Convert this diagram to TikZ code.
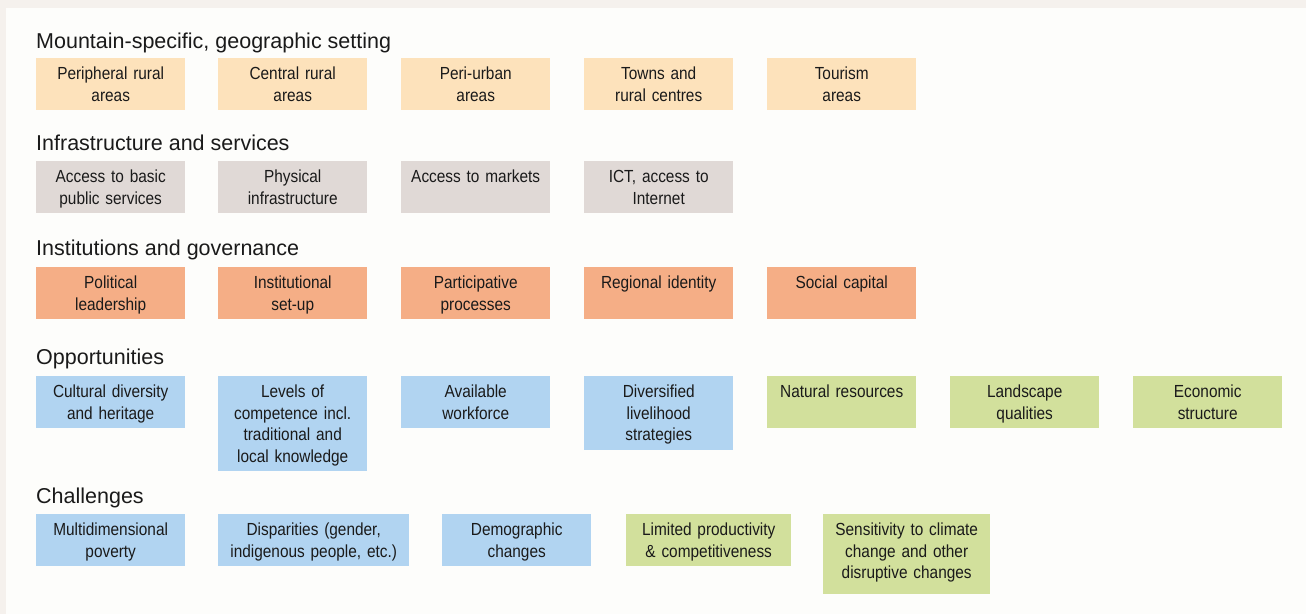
\documentclass[tikz,border=0pt]{standalone}
\usepackage{fontspec}
\setmainfont{Liberation Sans}
\newfontfamily\cellfont[FakeStretch=0.88]{Liberation Sans}

\definecolor{framebg}{HTML}{F5F1ED}
\definecolor{panelbg}{HTML}{FDFDFB}
\definecolor{geofill}{HTML}{FDE2BB}
\definecolor{infrafill}{HTML}{E0D9D6}
\definecolor{govfill}{HTML}{F5AE86}
\definecolor{socfill}{HTML}{B1D4F1}
\definecolor{envfill}{HTML}{D2E09C}
\definecolor{ink}{HTML}{1A1A1A}

\tikzset{
 heading/.style={anchor=base west, inner sep=0pt, text=ink,
   font=\fontsize{21.5}{25}\selectfont},
 cell/.style={anchor=north west, inner xsep=0pt, inner ysep=0pt,
   text width=149pt, align=center, text=ink,
   font=\cellfont\fontsize{17.5}{21.5}\selectfont,
   execute at begin node={\rule{0pt}{21.5pt}},
   execute at end node={\rule[-9pt]{0pt}{9pt}}},
 geo/.style={cell, fill=geofill},
 infra/.style={cell, fill=infrafill},
 gov/.style={cell, fill=govfill},
 soc/.style={cell, fill=socfill},
 env/.style={cell, fill=envfill}
}

\begin{document}
\begin{tikzpicture}[x=1pt,y=-1pt]
 \fill [framebg] (0,0) rectangle (1306,614);
 \fill [panelbg] (6,8) rectangle (1306,614);
 \useasboundingbox (0,0) rectangle (1306,614);

 % geographic setting
 \node [heading] (setting) at (36,48) {Mountain-specific, geographic setting};
 \node [geo] (peripheral) at (36,58)  {Peripheral rural\\areas};
 \node [geo] (central)    at (218,58) {Central rural\\areas};
 \node [geo] (periurban)  at (401,58) {Peri-urban\\areas};
 \node [geo] (towns)      at (584,58) {Towns and\\rural centres};
 \node [geo] (tourism)    at (767,58) {Tourism\\areas};

 % infrastructure
 \node [heading] (infra) at (36,150) {Infrastructure and services};
 \node [infra] (basic)    at (36,161)  {Access to basic\\public services};
 \node [infra] (physical) at (218,161) {Physical\\infrastructure};
 \node [infra] (markets)  at (401,161) {Access to markets\\~};
 \node [infra] (ict)      at (584,161) {ICT, access to\\Internet};

 % institutions
 \node [heading] (govern) at (36,255) {Institutions and governance};
 \node [gov] (political)     at (36,267)  {Political\\leadership};
 \node [gov] (institutional) at (218,267) {Institutional\\set-up};
 \node [gov] (participative) at (401,267) {Participative\\processes};
 \node [gov] (regional)      at (584,267) {Regional identity\\~};
 \node [gov] (social)        at (767,267) {Social capital\\~};

 % opportunities
 \node [heading] (opport) at (36,364) {Opportunities};
 \node [soc] (cultural)   at (36,376)  {Cultural diversity\\and heritage};
 \node [soc] (competence) at (218,376) {Levels of\\competence incl.\\traditional and\\local knowledge};
 \node [soc] (workforce)  at (401,376) {Available\\workforce};
 \node [soc] (livelihood) at (584,376) {Diversified\\livelihood\\strategies};
 \node [env] (natural)    at (767,376) {Natural resources\\~};
 \node [env] (landscape)  at (950,376) {Landscape\\qualities};
 \node [env] (economic)   at (1133,376) {Economic\\structure};

 % challenges
 \node [heading] (challenge) at (36,503) {Challenges};
 \node [soc] (poverty)      at (36,514)  {Multidimensional\\poverty};
 \node [soc, text width=191pt] (disparities) at (218,514) {Disparities (gender,\\indigenous people, etc.)};
 \node [soc] (demographic)  at (442,514) {Demographic\\changes};
 \node [env, text width=165pt] (productivity) at (626,514) {Limited productivity\\\& competitiveness};
 \node [env, text width=167pt] (climate) at (823,514) {Sensitivity to climate\\change and other\\disruptive changes\rule[-15pt]{0pt}{0pt}};

\end{tikzpicture}
\end{document}
